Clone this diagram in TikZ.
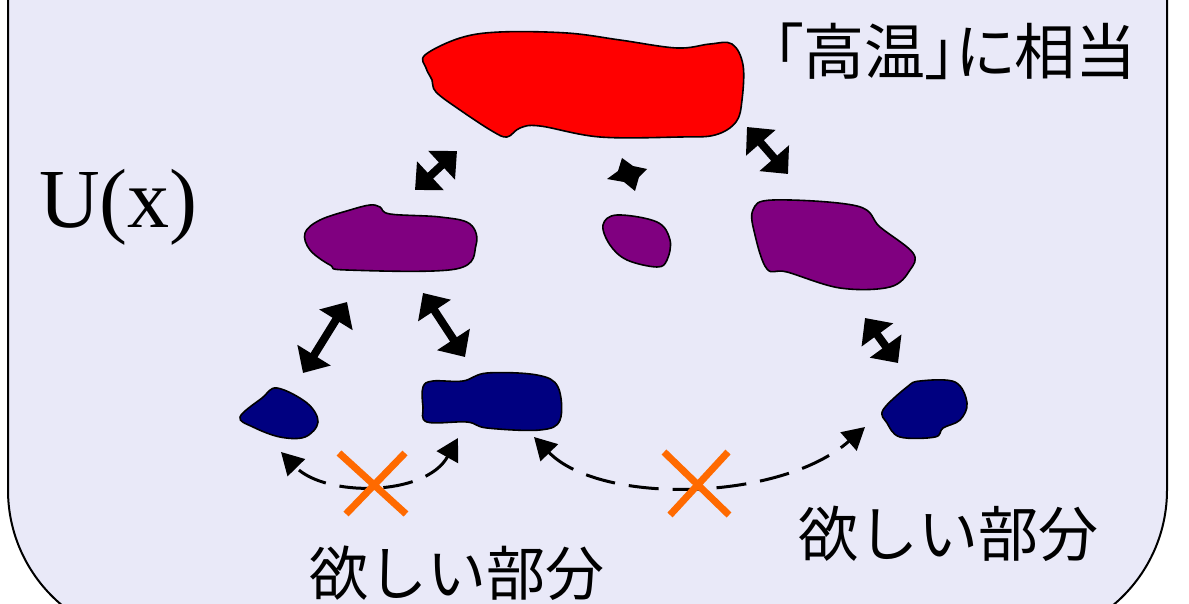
\documentclass[tikz,border=0pt]{standalone}
\usepackage{fontspec}
\setmainfont{Liberation Serif}
\newfontfamily\cjk{Noto Sans CJK JP}
\newfontfamily\cjkp[RawFeature=+palt]{Noto Sans CJK JP}
\usetikzlibrary{arrows.meta}
\definecolor{bgcol}{RGB}{233,233,248}
\definecolor{hotred}{RGB}{255,0,0}
\definecolor{midpurple}{RGB}{128,0,128}
\definecolor{coldblue}{RGB}{0,0,128}
\definecolor{crossorange}{RGB}{255,106,0}
\tikzset{
  blob/.style={draw=black, line width=1.6pt, line join=round},
  dbl/.style={line width=8pt, {Triangle[length=21pt,width=38pt]}-{Triangle[length=21pt,width=38pt]}},
  dashconn/.style={line width=3pt, dash pattern=on 30pt off 14pt, {Triangle[length=22pt,width=24pt]}-{Triangle[length=22pt,width=24pt]}},
  crossline/.style={draw=crossorange, line width=7pt},
  cjklabel/.style={font=\cjk, inner sep=0pt, anchor=center}
}
\begin{document}
\begin{tikzpicture}[x=1pt,y=-1pt]
\useasboundingbox (0,0) rectangle (1189,604);
\clip (0,0) rectangle (1189,604);
\fill[white] (0,0) rectangle (1189,604);
\draw[fill=bgcol, line width=2pt, rounded corners=150pt] (8,-400) rectangle (1167,640);

% blobs
\draw[blob, fill=hotred] plot[smooth cycle, tension=0.6] coordinates {
 (425,55) (460,38) (500,32) (567,33) (620,40) (677,48) (710,44) (732,44) (743,65) (742,100) (736,122) (715,135) (680,137) (600,137) (540,126) (520,128) (507,137) (492,131) (460,110) (436,92) (432,80) (426,68)};
\coordinate (hot) at (585,85);

\draw[blob, fill=midpurple] plot[smooth cycle, tension=0.6] coordinates {
 (305,233) (320,220) (350,210) (370,205) (380,207) (390,214) (440,217) (470,224) (476,245) (456,269) (347,270) (330,265) (310,250)};
\coordinate (pl) at (390,240);

\draw[blob, fill=midpurple] plot[smooth cycle, tension=0.6] coordinates {
 (603,225) (617,215) (657,222) (670,240) (667,260) (657,267) (627,260) (610,245)};
\coordinate (pm) at (637,240);

\draw[blob, fill=midpurple] plot[smooth cycle, tension=0.6] coordinates {
 (753,210) (773,200) (857,206) (880,227) (913,253) (910,270) (890,287) (840,288) (787,272) (767,269) (755,235)};
\coordinate (pr) at (835,245);

\draw[blob, fill=coldblue] plot[smooth cycle, tension=0.6] coordinates {
 (240,417) (262,398) (277,388) (307,403) (318,422) (305,437) (280,437) (253,427)};
\coordinate (bl) at (280,415);

\draw[blob, fill=coldblue] plot[smooth cycle, tension=0.6] coordinates {
 (423,387) (433,381) (463,381) (487,373) (537,375) (558,387) (560,420) (540,430) (487,428) (467,422) (427,422) (423,407)};
\coordinate (bm) at (490,402);

\draw[blob, fill=coldblue] plot[smooth cycle, tension=0.6] coordinates {
 (883,410) (907,387) (920,381) (955,382) (967,403) (960,420) (943,428) (935,437) (900,437) (887,423)};
\coordinate (br) at (925,410);

% arrow end points
\coordinate (a1s) at (415,190); \coordinate (a1e) at (457,151);
\coordinate (a3s) at (747,127); \coordinate (a3e) at (788,174);
\coordinate (a4s) at (347,302); \coordinate (a4e) at (303,373);
\coordinate (a5s) at (423,293); \coordinate (a5e) at (465,357);
\coordinate (a6s) at (865,318); \coordinate (a6e) at (898,363);

\draw[dbl] (a1s) -- (a1e);
\draw[dbl] (a3s) -- (a3e);
\draw[dbl] (a4s) -- (a4e);
\draw[dbl] (a5s) -- (a5e);
\draw[dbl] (a6s) -- (a6e);

% collapsed double arrow (star)
\coordinate (a2) at (628,174);
\fill[black] (622,158) -- (633,166) -- (647,169) -- (639,177) -- (635,191) -- (624,182) -- (607,179) -- (618,171) -- cycle;

% dashed connectors
\coordinate (d1l) at (281,452); \coordinate (d1r) at (458,438);
\coordinate (d2l) at (534,437); \coordinate (d2r) at (865,427);
\draw[dashconn] (d1r) .. controls (425,497) and (325,497) .. (d1l);
\draw[dashconn] (d2l) .. controls (600,505) and (780,502) .. (d2r);

% crosses
\coordinate (x1) at (372,483);
\coordinate (x2) at (697,483);
\draw[crossline] (339,453) -- (406,514);
\draw[crossline] (405,453) -- (346,514);
\draw[crossline] (664,452) -- (729,515);
\draw[crossline] (728,452) -- (670,515);

% labels
\node[inner sep=0pt, anchor=base west, font=\fontsize{84}{90}\selectfont] (ux) at (39,228) {U(x)};
\node[inner sep=0pt, anchor=center, font=\cjkp\fontsize{61}{70}\selectfont] (title) at (955,51) {「高温」に相当};
\node[cjklabel, font=\cjk\fontsize{59}{66}\selectfont] (want1) at (457,573) {欲しい部分};
\node[cjklabel, font=\cjk\fontsize{60}{66}\selectfont] (want2) at (948,534) {欲しい部分};
\end{tikzpicture}
\end{document}
